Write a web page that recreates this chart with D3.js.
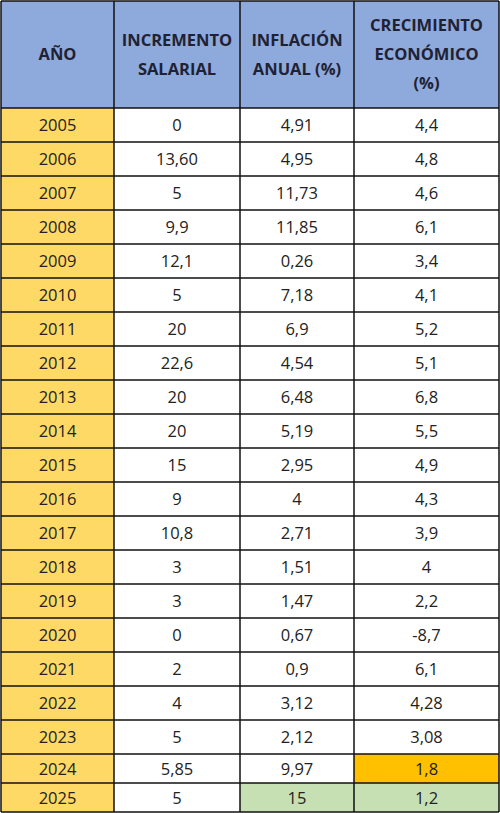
<!DOCTYPE html>
<html><head><meta charset="utf-8">
<script src="https://cdn.jsdelivr.net/npm/d3@7"></script>
<style>body{margin:0;background:#fff}</style>
</head><body>
<svg id="chart" width="500" height="813"></svg>
<script>
var headers = [["AÑO"], ["INCREMENTO", "SALARIAL"], ["INFLACIÓN", "ANUAL (%)"], ["CRECIMIENTO", "ECONÓMICO", "(%)"]];
var years = ["2005","2006","2007","2008","2009","2010","2011","2012","2013","2014","2015","2016","2017","2018","2019","2020","2021","2022","2023","2024","2025"];
var salario = ["0","13,60","5","9,9","12,1","5","20","22,6","20","20","15","9","10,8","3","3","0","2","4","5","5,85","5"];
var inflacion = ["4,91","4,95","11,73","11,85","0,26","7,18","6,9","4,54","6,48","5,19","2,95","4","2,71","1,51","1,47","0,67","0,9","3,12","2,12","9,97","15"];
var crecimiento = ["4,4","4,8","4,6","6,1","3,4","4,1","5,2","5,1","6,8","5,5","4,9","4,3","3,9","4","2,2","-8,7","6,1","4,28","3,08","1,8","1,2"];
var highlights = {"2024-3": "#FFC000", "2025-2": "#C6E0B4", "2025-3": "#C6E0B4"};

var svg = d3.select("#chart");
var colX = [1, 114, 240, 354, 499];
var headH = 108;

// row boundaries: regular rows 34px, last two 29px
var rowTop = [];
var y = headH;
years.forEach(function(d, i) {
    rowTop.push(y);
    y += (i >= 19) ? 29 : 34;
});
rowTop.push(y);

var font = "'Open Sans', Lato, sans-serif";

// header
headers.forEach(function(lines, c) {
    svg.append("rect").attr("x", colX[c]).attr("y", 1).attr("width", colX[c+1]-colX[c]).attr("height", headH-1)
        .attr("fill", "#8EA9DB");
    var cx = (colX[c] + colX[c+1]) / 2;
    var lh = 29;
    var y0 = headH/2 - (lines.length-1)*lh/2 + 6;
    lines.forEach(function(t, k) {
        svg.append("text").attr("x", cx).attr("y", y0 + k*lh).attr("text-anchor", "middle")
            .attr("font-family", font).attr("font-weight", "bold").attr("font-size", 16.5)
            .attr("fill", "#1f2233").text(t);
    });
});

// body
years.forEach(function(yr, i) {
    var vals = [yr, salario[i], inflacion[i], crecimiento[i]];
    vals.forEach(function(v, c) {
        var fill = c === 0 ? "#FFD966" : (highlights[yr + "-" + c] || "#fff");
        svg.append("rect").attr("x", colX[c]).attr("y", rowTop[i]).attr("width", colX[c+1]-colX[c])
            .attr("height", rowTop[i+1]-rowTop[i]).attr("fill", fill);
        svg.append("text").attr("x", (colX[c]+colX[c+1])/2).attr("y", (rowTop[i]+rowTop[i+1])/2 + 6)
            .attr("text-anchor", "middle").attr("font-family", font).attr("font-size", 16.5)
            .attr("fill", "#222").text(v);
    });
});

// grid lines
var hLines = [1].concat(rowTop);
svg.selectAll("line.h").data(hLines).enter().append("line")
    .attr("x1", colX[0]).attr("x2", colX[4]).attr("y1", function(d){return d;}).attr("y2", function(d){return d;})
    .attr("stroke", "#111").attr("stroke-width", 1.5);
svg.selectAll("line.v").data(colX).enter().append("line")
    .attr("y1", 1).attr("y2", rowTop[rowTop.length-1]).attr("x1", function(d){return d;}).attr("x2", function(d){return d;})
    .attr("stroke", "#111").attr("stroke-width", 1.5);
</script>
</body></html>
